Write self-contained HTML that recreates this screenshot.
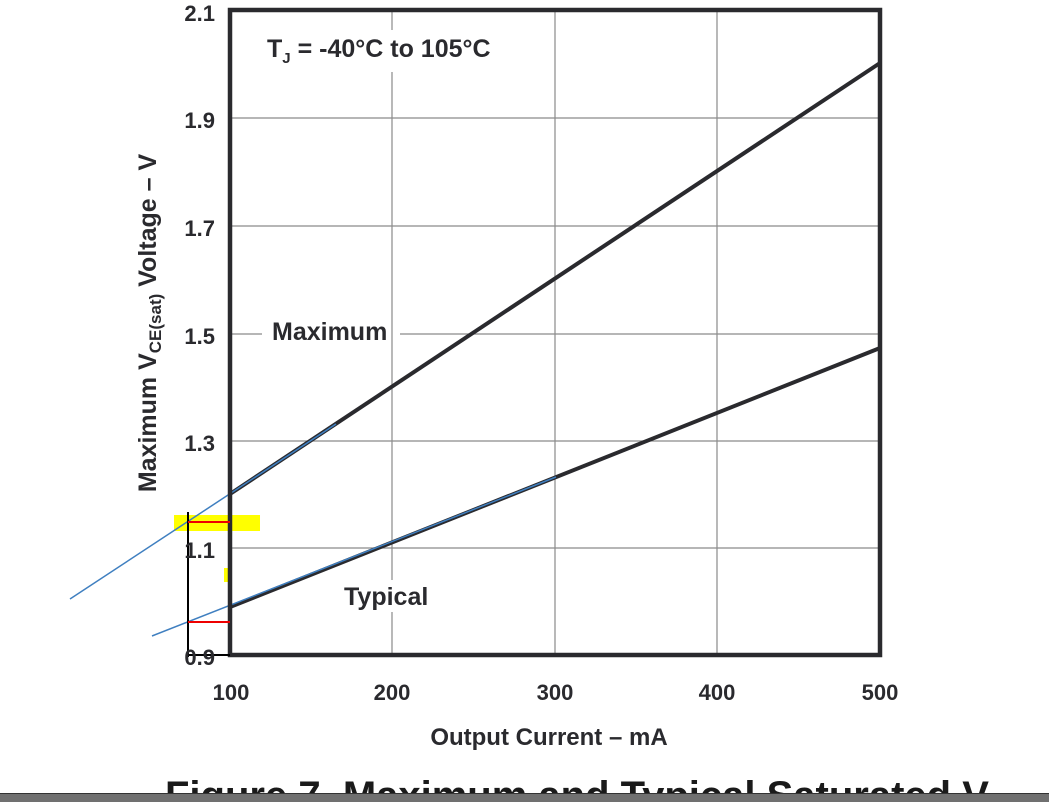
<!DOCTYPE html>
<html><head><meta charset="utf-8"><style>
html,body{margin:0;padding:0;background:#fff;}
svg{display:block;font-family:"Liberation Sans",Arial,sans-serif;font-weight:bold;}
</style></head><body>
<svg width="1049" height="802" viewBox="0 0 1049 802" xmlns="http://www.w3.org/2000/svg">
<rect width="1049" height="802" fill="#fff"/>
<rect x="174" y="515" width="86" height="16" fill="#ffff00"/>
<rect x="224" y="568" width="4" height="14" fill="#ffff00"/>
<g stroke="#8a8a8a" stroke-width="1.2">
<line x1="392" y1="10" x2="392" y2="30"/><line x1="392" y1="72" x2="392" y2="655"/>
<line x1="555" y1="10" x2="555" y2="655"/>
<line x1="717" y1="10" x2="717" y2="655"/>
<line x1="230" y1="118" x2="880" y2="118"/>
<line x1="230" y1="226" x2="880" y2="226"/>
<line x1="230" y1="334" x2="262" y2="334"/><line x1="400" y1="334" x2="880" y2="334"/>
<line x1="230" y1="441" x2="880" y2="441"/>
<line x1="230" y1="548" x2="880" y2="548"/>
</g>
<rect x="340" y="580" width="92" height="32" fill="#fff"/>
<line x1="230" y1="494" x2="880" y2="63" stroke="#2a2a2e" stroke-width="4"/>
<line x1="230" y1="607" x2="880" y2="348" stroke="#2a2a2e" stroke-width="4"/>
<line x1="70" y1="599" x2="336" y2="424" stroke="#3f7fc0" stroke-width="1.5"/>
<line x1="152" y1="636" x2="556" y2="477" stroke="#3f7fc0" stroke-width="1.5"/>
<rect x="230" y="10" width="650" height="645" fill="none" stroke="#2a2a2e" stroke-width="4.5"/>
<line x1="188" y1="512" x2="188" y2="657" stroke="#000" stroke-width="2"/>
<line x1="188" y1="655" x2="230" y2="655" stroke="#000" stroke-width="2"/>
<line x1="188" y1="522" x2="230" y2="522" stroke="#e00" stroke-width="2"/>
<line x1="188" y1="622" x2="230" y2="622" stroke="#e00" stroke-width="2"/>
<g fill="#2a2a2e" font-size="25">
<text x="267" y="57">T<tspan font-size="15" dy="6">J</tspan><tspan dy="-6"> = -40°C to 105°C</tspan></text>
<text x="272" y="340">Maximum</text>
<text x="344" y="605">Typical</text>
</g>
<g fill="#2a2a2e" font-size="22" text-anchor="end">
<text x="215" y="21">2.1</text>
<text x="215" y="128">1.9</text>
<text x="215" y="236">1.7</text>
<text x="215" y="344">1.5</text>
<text x="215" y="451">1.3</text>
<text x="215" y="558">1.1</text>
<text x="215" y="665">0.9</text>
</g>
<g fill="#2a2a2e" font-size="22" text-anchor="middle">
<text x="231" y="700">100</text>
<text x="392" y="700">200</text>
<text x="555" y="700">300</text>
<text x="717" y="700">400</text>
<text x="880" y="700">500</text>
<text x="549" y="745" font-size="24">Output Current – mA</text>
</g>
<text transform="translate(156,323) rotate(-90)" fill="#2a2a2e" font-size="25" text-anchor="middle">Maximum V<tspan font-size="17" dy="5">CE(sat)</tspan><tspan dy="-5"> Voltage  – V</tspan></text>
<text x="165" y="809" fill="#1a1a1a" font-size="40">Figure 7. Maximum and Typical Saturated V<tspan font-size="25" dy="6">CE</tspan></text>
<rect x="0" y="793" width="1049" height="9" fill="#707070"/>
<line x1="0" y1="793.5" x2="1049" y2="793.5" stroke="#333" stroke-width="1"/>
</svg>
</body></html>
